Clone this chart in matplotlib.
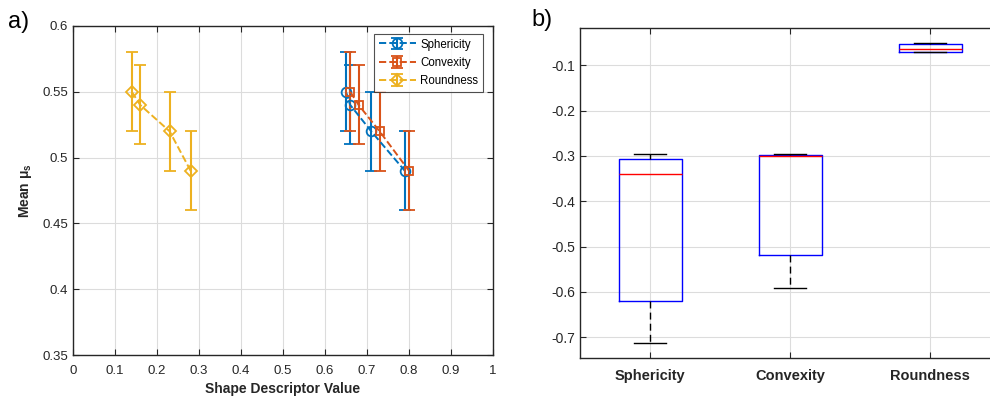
import matplotlib
matplotlib.use("Agg")
import matplotlib.pyplot as plt

plt.rcParams['font.family'] = ['Liberation Sans', 'DejaVu Sans']
plt.rcParams['axes.unicode_minus'] = False
plt.rcParams['mathtext.fontset'] = 'custom'
plt.rcParams['mathtext.rm'] = 'Liberation Sans'
plt.rcParams['mathtext.bf'] = 'Liberation Sans:bold'
plt.rcParams['mathtext.it'] = 'Liberation Sans:italic'

# ---- panel a) data: mean friction vs. shape descriptor ----
sph_x = [0.65, 0.66, 0.71, 0.79]
sph_y = [0.55, 0.54, 0.52, 0.49]
sph_err = [0.03, 0.03, 0.03, 0.03]

cvx_x = [0.66, 0.68, 0.73, 0.80]
cvx_y = [0.55, 0.54, 0.52, 0.49]
cvx_err = [0.03, 0.03, 0.03, 0.03]

rnd_x = [0.14, 0.16, 0.23, 0.28]
rnd_y = [0.55, 0.54, 0.52, 0.49]
rnd_err = [0.03, 0.03, 0.03, 0.03]

x_ticks = [0, 0.1, 0.2, 0.3, 0.4, 0.5, 0.6, 0.7, 0.8, 0.9, 1]
x_ticklabels = ['0', '0.1', '0.2', '0.3', '0.4', '0.5', '0.6', '0.7', '0.8', '0.9', '1']
y_ticks = [0.35, 0.4, 0.45, 0.5, 0.55, 0.6]
y_ticklabels = ['0.35', '0.4', '0.45', '0.5', '0.55', '0.6']

# ---- panel b) data: box statistics per descriptor ----
descriptors = ['Sphericity', 'Convexity', 'Roundness']
box_whislo = [-0.713, -0.591, -0.0713]
box_q1 = [-0.620, -0.519, -0.0700]
box_med = [-0.339, -0.301, -0.0647]
box_q3 = [-0.306, -0.298, -0.0536]
box_whishi = [-0.295, -0.295, -0.0508]
b_yticks = [-0.7, -0.6, -0.5, -0.4, -0.3, -0.2, -0.1]
b_yticklabels = ['-0.7', '-0.6', '-0.5', '-0.4', '-0.3', '-0.2', '-0.1']

c_blue = '#0072BD'
c_orange = '#D95319'
c_yellow = '#EDB120'
axis_col = '#262626'
grid_col = '#dcdcdc'

W, H = 990, 397
fig = plt.figure(figsize=(W / 100, H / 100), dpi=100)


def frac(l, t, r, b):
    return [l / W, 1 - b / H, (r - l) / W, (b - t) / H]


def style_axes(ax, size):
    for s in ax.spines.values():
        s.set_color(axis_col)
        s.set_linewidth(1.0)
    ax.tick_params(direction='in', colors=axis_col, labelsize=size, length=4, width=0.8)
    ax.grid(True, color=grid_col, linewidth=0.8)
    ax.set_axisbelow(True)


# ---------------- panel a ----------------
ax1 = fig.add_axes(frac(73, 26, 493, 355))
style_axes(ax1, 9.5)
ax1.tick_params(top=True, right=True)
ax1.tick_params(axis='x', pad=7.5)
common = dict(linestyle='--', linewidth=1.4, capsize=4.5, capthick=1.5,
              elinewidth=1.5, markerfacecolor='none', markeredgewidth=1.3)
ax1.errorbar(sph_x, sph_y, yerr=sph_err, color=c_blue, marker='o', markersize=7,
             label='Sphericity', **common)
ax1.errorbar(cvx_x, cvx_y, yerr=cvx_err, color=c_orange, marker='s', markersize=6.3,
             label='Convexity', **common)
ax1.errorbar(rnd_x, rnd_y, yerr=rnd_err, color=c_yellow, marker='D', markersize=6.3,
             label='Roundness', **common)
ax1.set_xlim(0, 1)
ax1.set_ylim(0.35, 0.6)
ax1.set_xticks(x_ticks)
ax1.set_xticklabels(x_ticklabels)
ax1.set_yticks(y_ticks)
ax1.set_yticklabels(y_ticklabels)
ax1.set_xlabel('Shape Descriptor Value', fontsize=10, fontweight='bold', color=axis_col, labelpad=3)
ax1.set_ylabel(r'Mean $\mathbf{\mu_s}$', fontsize=10, fontweight='bold', color=axis_col, labelpad=6)
leg = ax1.legend(loc='upper right', fontsize=8.3, frameon=True, fancybox=False,
                 borderpad=0.4, labelspacing=0.55, handlelength=3.2, handletextpad=0.4,
                 bbox_to_anchor=(0.976, 0.976), borderaxespad=0)
leg.get_frame().set_edgecolor(axis_col)
leg.get_frame().set_linewidth(0.8)
fig.text(8 / W, 1 - 22 / H, 'a)', fontsize=17, va='center', ha='left')

# ---------------- panel b ----------------
ax2 = fig.add_axes(frac(580, 28, 1000, 358))
style_axes(ax2, 10)
ax2.tick_params(top=True, right=False)
ax2.spines['right'].set_visible(False)
stats = []
for i, name in enumerate(descriptors):
    stats.append(dict(label=name, med=box_med[i], q1=box_q1[i], q3=box_q3[i],
                      whislo=box_whislo[i], whishi=box_whishi[i], fliers=[]))
ax2.bxp(stats, positions=[1, 2, 3], widths=0.45, showfliers=False,
        boxprops=dict(color='#0000ff', linewidth=1.0),
        medianprops=dict(color='#ff0000', linewidth=1.0),
        whiskerprops=dict(color='black', linewidth=1.0, linestyle=(0, (5, 3))),
        capprops=dict(color='black', linewidth=1.0),
        capwidths=0.225)
ax2.set_xlim(0.5, 3.5)
ax2.set_ylim(-0.746, -0.0177)
ax2.set_yticks(b_yticks)
ax2.set_yticklabels(b_yticklabels)
ax2.set_xticks([1, 2, 3])
ax2.set_xticklabels(descriptors, fontsize=10.5, fontweight='bold')
ax2.tick_params(axis='x', pad=8)
fig.text(531 / W, 1 - 20 / H, 'b)', fontsize=17, va='center', ha='left')

fig.savefig('out.png', dpi=100)
